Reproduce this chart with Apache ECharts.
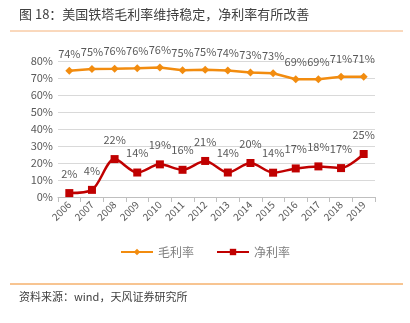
<!DOCTYPE html>
<html><head><meta charset="utf-8">
<script src="https://cdn.jsdelivr.net/npm/echarts@6/dist/echarts.min.js"></script>
<style>html,body{margin:0;padding:0;background:#fff;}#c{width:410px;height:323px;}</style>
</head><body><div id="c"></div>
<script>
const years = ['2006','2007','2008','2009','2010','2011','2012','2013','2014','2015','2016','2017','2018','2019'];
const grossMargin = [74.2,75.3,75.5,75.8,76.2,74.5,74.9,74.4,73.2,72.8,69.3,69.3,70.7,70.8];
const netMargin = [2.3,4.2,22.3,14.4,19.2,16.0,21.2,14.4,20.0,14.3,16.8,18.0,17.0,25.3];
const yTicks = [0,10,20,30,40,50,60,70,80];
const font = '"Microsoft YaHei","Noto Sans CJK SC",sans-serif';
const chart = echarts.init(document.getElementById('c'));
chart.setOption({
  animation:false,
  textStyle:{fontFamily:font},
  graphic:[
    {type:'text',left:19,top:8,style:{text:'图 18：美国铁塔毛利率维持稳定，净利率有所改善',fill:'#404040',font:'13px '+font}},
    {type:'line',shape:{x1:10,y1:31,x2:403,y2:31},style:{stroke:'#f5b27a',lineWidth:1}},
    {type:'line',shape:{x1:10,y1:284,x2:403,y2:284},style:{stroke:'#f08a24',lineWidth:1}},
    {type:'text',left:19,top:291,style:{text:'资料来源：wind，天风证券研究所',fill:'#404040',font:'11px '+font}}
  ],
  grid:{left:58,right:35,top:61,bottom:126,containLabel:false},
  legend:{bottom:60,left:'center',itemWidth:32,itemHeight:8,itemGap:22,
    textStyle:{color:'#7f7f7f',fontSize:12,fontFamily:font},
    data:['毛利率','净利率']},
  xAxis:{type:'category',data:years,boundaryGap:true,
    axisLine:{lineStyle:{color:'#bfbfbf'}},axisTick:{show:true,alignWithLabel:false,lineStyle:{color:'#bfbfbf'}},
    axisLabel:{rotate:45,color:'#595959',fontSize:10,interval:0,margin:6,fontFamily:font}},
  yAxis:{type:'value',min:0,max:80,interval:10,
    axisLine:{show:false},axisTick:{show:false},
    splitLine:{lineStyle:{color:'#d9d9d9'}},
    axisLabel:{formatter:v=>yTicks.includes(v)?v+'%':'',color:'#595959',fontSize:11,margin:5,fontFamily:font}},
  series:[
    {name:'毛利率',type:'line',data:grossMargin,symbol:'diamond',symbolSize:8,
     lineStyle:{color:'#f28c0f',width:2.5},itemStyle:{color:'#f28c0f'},
     label:{show:true,position:'top',distance:8,color:'#595959',fontSize:11,formatter:p=>Math.round(p.value)+'%'}},
    {name:'净利率',type:'line',data:netMargin,symbol:'rect',symbolSize:8,smooth:0.3,
     lineStyle:{color:'#c00000',width:2.5},itemStyle:{color:'#c00000'},
     label:{show:true,position:'top',distance:10,color:'#595959',fontSize:11,formatter:p=>Math.round(p.value)+'%'}}
  ]
});
</script></body></html>
